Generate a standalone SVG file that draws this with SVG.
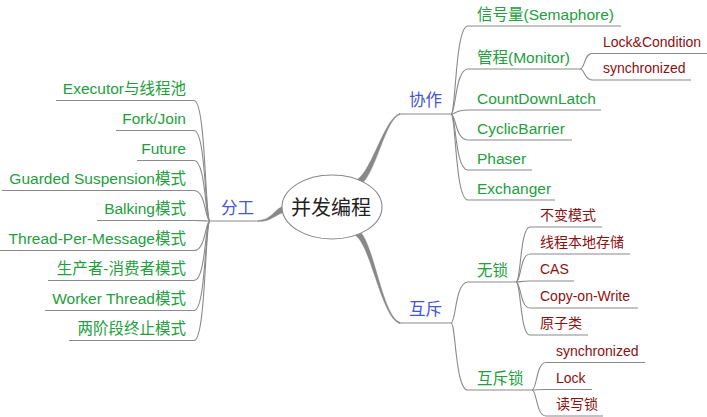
<svg xmlns="http://www.w3.org/2000/svg" width="707" height="417" viewBox="0 0 707 417">
<style>
text{font-family:"Liberation Sans","Noto Sans CJK SC",sans-serif}
.g{fill:#22a03c;font-size:15.5px}
.r{fill:#8b1111;font-size:14px}
.b{fill:#4455d6;font-size:16.5px}
.c{fill:#222;font-size:20px}
.l{fill:none;stroke:#8a8a8a;stroke-width:1.1}
.t{fill:#888;stroke:#888;stroke-width:0.4}
.e{text-anchor:end}
</style>
<g id="connectors">
<path class="t" d="M284.4,206 C274.4,208 272,220.4 258,220.4 L258,221.6 C272,221.6 275.6,214 285.6,212 Z"/>
<path class="t" d="M357.3,179.5 C372.3,169.5 384.9,117.4 399.9,113.4 L400.1,114.6 C385.2,118.6 375.7,174.5 360.7,184.5 Z"/>
<path class="t" d="M358.5,230.4 C373.5,239.4 382.2,317.4 400.2,322.4 L399.8,323.6 C381.8,318.6 370.5,244.6 355.5,235.6 Z"/>
<path class="l" d="M259,221 L210,221"/>
<path class="l" d="M399,114 L451,114"/>
<path class="l" d="M399,323 L451,323"/>
<path class="l" d="M210,221 C205,221 206,100.5 194,100.5 L56,100.5"/>
<path class="l" d="M210,221 C205,221 206,130.5 194,130.5 L116,130.5"/>
<path class="l" d="M210,221 C205,221 206,160.5 194,160.5 L137,160.5"/>
<path class="l" d="M210,221 C205,221 206,190.5 194,190.5 L2,190.5"/>
<path class="l" d="M210,221 C205,221 206,220.5 194,220.5 L97,220.5"/>
<path class="l" d="M210,221 C205,221 206,250.5 194,250.5 L0,250.5"/>
<path class="l" d="M210,221 C205,221 206,280.5 194,280.5 L48,280.5"/>
<path class="l" d="M210,221 C205,221 206,310.5 194,310.5 L45,310.5"/>
<path class="l" d="M210,221 C205,221 206,340.5 194,340.5 L69,340.5"/>
<path class="l" d="M451,114 C456,114 455,26 468,26 L621,26"/>
<path class="l" d="M451,114 C456,114 455,69 468,69 L580,69"/>
<path class="l" d="M451,114 C456,114 455,110 468,110 L601,110"/>
<path class="l" d="M451,114 C456,114 455,140 468,140 L572,140"/>
<path class="l" d="M451,114 C456,114 455,170 468,170 L532,170"/>
<path class="l" d="M451,114 C456,114 455,200 468,200 L555,200"/>
<path class="l" d="M580,69 C585,69 584,53.5 592,53.5 L707,53.5"/>
<path class="l" d="M580,69 C585,69 584,80 592,80 L691,80"/>
<path class="l" d="M451,323 C456,323 455,282 468,282 L516,282"/>
<path class="l" d="M451,323 C456,323 455,390 468,390 L532,390"/>
<path class="l" d="M516,282 C521,282 520,227 530,227 L602,227"/>
<path class="l" d="M516,282 C521,282 520,254 530,254 L630,254"/>
<path class="l" d="M516,282 C521,282 520,281 530,281 L574,281"/>
<path class="l" d="M516,282 C521,282 520,308 530,308 L638,308"/>
<path class="l" d="M516,282 C521,282 520,335 530,335 L588,335"/>
<path class="l" d="M532,390 C537,390 536,362.5 546,362.5 L645,362.5"/>
<path class="l" d="M532,390 C537,390 536,389.5 546,389.5 L592,389.5"/>
<path class="l" d="M532,390 C537,390 536,416 546,416 L603,416"/>
</g>
<g id="root">
<ellipse cx="332" cy="207" rx="50" ry="32" fill="#fff" stroke="#888" stroke-width="1.1"/>
<text class="c" x="331" y="215" text-anchor="middle">并发编程</text>
</g>
<g id="fengong"><text class="b" x="221" y="214">分工</text></g>
<g id="xiezuo"><text class="b" x="409" y="106">协作</text></g>
<g id="huchi"><text class="b" x="409" y="315">互斥</text></g>
<g id="fengong-children">
<text class="g e" x="186" y="93.5">Executor与线程池</text>
<text class="g e" x="186" y="123.5">Fork/Join</text>
<text class="g e" x="186" y="153.5">Future</text>
<text class="g e" x="186" y="183.5">Guarded Suspension模式</text>
<text class="g e" x="186" y="213.5">Balking模式</text>
<text class="g e" x="186" y="243.5">Thread-Per-Message模式</text>
<text class="g e" x="186" y="273.5">生产者-消费者模式</text>
<text class="g e" x="186" y="303.5">Worker Thread模式</text>
<text class="g e" x="186" y="333.5">两阶段终止模式</text>
</g>
<g id="xiezuo-children">
<text class="g" x="477" y="19.5">信号量(Semaphore)</text>
<text class="g" x="477" y="62.5">管程(Monitor)</text>
<text class="g" x="477" y="103.5">CountDownLatch</text>
<text class="g" x="477" y="133.5">CyclicBarrier</text>
<text class="g" x="477" y="163.5">Phaser</text>
<text class="g" x="477" y="193.5">Exchanger</text>
</g>
<g id="monitor-children">
<text class="r" x="603" y="46.5">Lock&amp;Condition</text>
<text class="r" x="603" y="73">synchronized</text>
</g>
<g id="huchi-children">
<text class="g" x="477" y="275.5">无锁</text>
<text class="g" x="477" y="383.5">互斥锁</text>
</g>
<g id="wusuo-children">
<text class="r" x="540" y="220">不变模式</text>
<text class="r" x="540" y="247">线程本地存储</text>
<text class="r" x="540" y="274">CAS</text>
<text class="r" x="540" y="301">Copy-on-Write</text>
<text class="r" x="540" y="328">原子类</text>
</g>
<g id="hcs-children">
<text class="r" x="556" y="355.5">synchronized</text>
<text class="r" x="556" y="382.5">Lock</text>
<text class="r" x="556" y="409">读写锁</text>
</g>
</svg>
